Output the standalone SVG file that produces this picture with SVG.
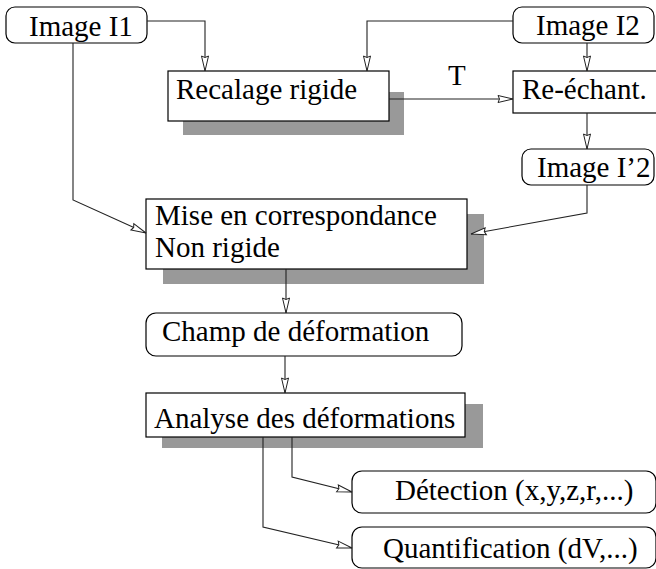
<svg xmlns="http://www.w3.org/2000/svg" width="656" height="569" viewBox="0 0 656 569">
  <style>
    .box { fill: #ffffff; stroke: #000000; stroke-width: 1.2; }
    .shadow { fill: #999999; stroke: none; }
    .label { font-family: "Liberation Serif", "Times New Roman", serif; font-size: 29px; fill: #000000; }
    .conn { fill: none; stroke: #222222; stroke-width: 1.1; marker-end: url(#open); }
  </style>
  <defs>
    <marker id="open" markerUnits="userSpaceOnUse" markerWidth="18" markerHeight="10" refX="15" refY="3.5" orient="auto" overflow="visible">
      <path d="M0,0 L15,3.5 L0,7 L1.5,3.5 Z" fill="#ffffff" stroke="#222222" stroke-width="1"/>
    </marker>
  </defs>

  <rect width="656" height="569" fill="#ffffff"/>

  <!-- source images -->
  <g id="image-i1">
    <rect class="box" x="6" y="7" width="141" height="36" rx="9"/>
    <text class="label" x="29" y="36">Image I1</text>
  </g>
  <g id="image-i2">
    <rect class="box" x="513" y="7" width="141" height="36" rx="9"/>
    <text class="label" x="536" y="35">Image I2</text>
  </g>

  <!-- rigid registration -->
  <g id="recalage">
    <rect class="shadow" x="183" y="92" width="221" height="43"/>
    <rect class="box" x="168" y="71" width="221" height="50"/>
    <text class="label" x="176" y="99">Recalage rigide</text>
  </g>

  <!-- resampling -->
  <g id="reechant">
    <rect class="box" x="513" y="71" width="145" height="42"/>
    <text class="label" x="522" y="99">Re-échant.</text>
  </g>

  <g id="image-i2-prime">
    <rect class="box" x="522" y="149" width="132" height="36" rx="9"/>
    <text class="label" x="537" y="177">Image I’2</text>
  </g>

  <!-- non-rigid matching -->
  <g id="mise-en-correspondance">
    <rect class="shadow" x="163" y="214" width="321" height="70"/>
    <rect class="box" x="146" y="199" width="321" height="70"/>
    <text class="label" x="155" y="225">Mise en correspondance</text>
    <text class="label" x="155" y="257">Non rigide</text>
  </g>

  <g id="champ">
    <rect class="box" x="146" y="313" width="316" height="43" rx="10"/>
    <text class="label" x="162" y="341">Champ de déformation</text>
  </g>

  <g id="analyse">
    <rect class="shadow" x="162" y="404" width="321" height="44"/>
    <rect class="box" x="146" y="393" width="319" height="44"/>
    <text class="label" x="154" y="428">Analyse des déformations</text>
  </g>

  <g id="detection">
    <rect class="box" x="352" y="471" width="304" height="42" rx="10"/>
    <text class="label" x="395" y="500">Détection (x,y,z,r,...)</text>
  </g>

  <g id="quantification">
    <rect class="box" x="352" y="527" width="304" height="41" rx="10"/>
    <text class="label" x="383" y="558">Quantification (dV,...)</text>
  </g>

  <!-- connectors -->
  <g id="connectors">
    <path class="conn" d="M147,21 H205 V71"/>
    <path class="conn" d="M513,21 H367 V71"/>
    <path class="conn" d="M587,43 V71"/>
    <path class="conn" d="M389,99 H513"/>
    <text class="label" x="448" y="85">T</text>
    <path class="conn" d="M587,113 V149"/>
    <path class="conn" d="M587,185 V213 L471,234"/>
    <path class="conn" d="M73,43 V200 L146,233"/>
    <path class="conn" d="M286,269 V313"/>
    <path class="conn" d="M285,356 V393"/>
    <path class="conn" d="M292,437 V477 L352,492"/>
    <path class="conn" d="M263,437 V527 L352,548"/>
  </g>
</svg>
